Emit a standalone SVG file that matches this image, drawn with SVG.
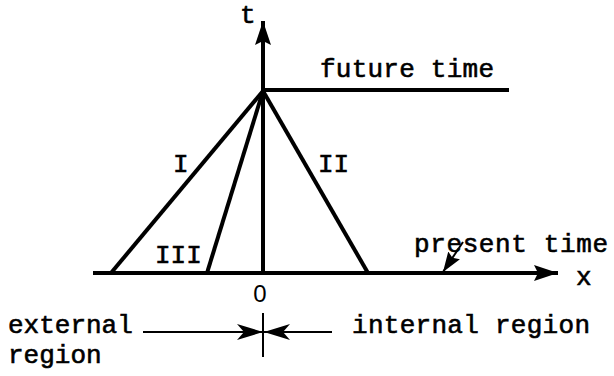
<svg xmlns="http://www.w3.org/2000/svg" width="614" height="376" viewBox="0 0 614 376">
<style>
.t{font-family:"Liberation Mono","DejaVu Sans Mono",monospace;font-size:26px;fill:#000;stroke:#000;stroke-width:0.6}
.n{font-family:"Liberation Sans",Arial,sans-serif;font-size:24px;fill:#000}
.thick{stroke:#000;stroke-width:4;fill:none;stroke-linecap:butt}
.thin{stroke:#000;stroke-width:2;fill:none}
</style>
<defs>
<marker id="big" markerUnits="userSpaceOnUse" viewBox="0 0 26 18" markerWidth="26" markerHeight="18" refX="24" refY="9" orient="auto">
<path d="M0,1 L24,9 L0,17 L4,9 Z" fill="#000"/>
</marker>
<marker id="small" markerUnits="userSpaceOnUse" viewBox="0 0 28 18" markerWidth="28" markerHeight="18" refX="26" refY="9" orient="auto">
<path d="M0,1 L26,9 L0,17 L7,9 Z" fill="#000"/>
</marker>
<marker id="ptr" markerUnits="userSpaceOnUse" viewBox="0 0 22 16" markerWidth="22" markerHeight="16" refX="20" refY="8" orient="auto">
<path d="M0,1 L20,8 L0,15 L3,8 Z" fill="#000"/>
</marker>
</defs>
<g id="connectors">
<line id="t-axis" class="thick" x1="263" y1="273" x2="263" y2="21" marker-end="url(#big)"/>
<line id="x-axis" class="thick" x1="93" y1="273" x2="558" y2="273" marker-end="url(#big)"/>
<line id="future-line" class="thick" x1="263" y1="90" x2="509" y2="90"/>
<line id="line-I" class="thick" x1="263" y1="91" x2="111" y2="273"/>
<line id="line-III" class="thick" x1="263" y1="91" x2="207" y2="273"/>
<line id="line-II" class="thick" x1="263" y1="91" x2="368" y2="273"/>
<line id="present-pointer" class="thin" stroke-width="3" x1="463" y1="242" x2="443" y2="272" marker-end="url(#ptr)"/>
<line id="arrow-ext" class="thin" x1="143" y1="332" x2="263" y2="332" marker-end="url(#small)"/>
<line id="arrow-int" class="thin" x1="332" y1="332" x2="264" y2="332" marker-end="url(#small)"/>
<line id="origin-tick" class="thin" x1="263" y1="313" x2="263" y2="357"/>
</g>
<g id="label-t"><text class="t" x="240" y="23">t</text></g>
<g id="label-future"><text class="t" x="320" y="77" textLength="174">future time</text></g>
<g id="label-I"><text class="t" x="173" y="172">I</text></g>
<g id="label-II"><text class="t" x="318" y="172">II</text></g>
<g id="label-III"><text class="t" x="155" y="263">III</text></g>
<g id="label-present"><text class="t" x="414" y="252" textLength="194">present time</text></g>
<g id="label-x"><text class="t" x="576" y="285">x</text></g>
<g id="label-0"><text class="n" x="260" y="302" text-anchor="middle">0</text></g>
<g id="label-external"><text class="t" x="8" y="333">external</text><text class="t" x="8" y="363">region</text></g>
<g id="label-internal"><text class="t" x="352" y="333" textLength="238">internal region</text></g>
</svg>
